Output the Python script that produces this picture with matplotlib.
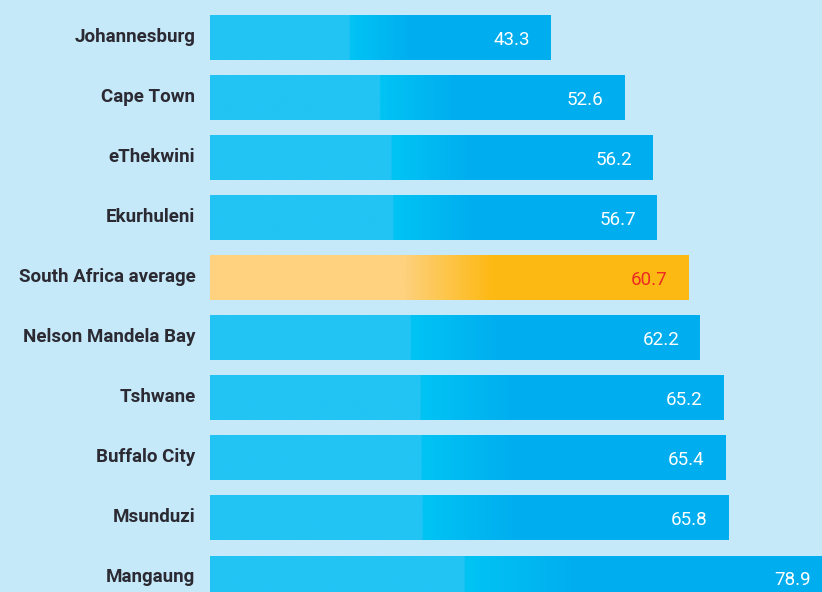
import numpy as np
import matplotlib.pyplot as plt
from matplotlib.colors import to_rgb

cities = ["Johannesburg", "Cape Town", "eThekwini", "Ekurhuleni", "South Africa average",
          "Nelson Mandela Bay", "Tshwane", "Buffalo City", "Msunduzi", "Mangaung"]
values = [43.3, 52.6, 56.2, 56.7, 60.7, 62.2, 65.2, 65.4, 65.8, 78.9]
highlight = "South Africa average"

BG = "#c5e9f9"


def gradient(c_left, c_jump, c_right, n=400):
    # solid left part, then a ramp from ~41% to ~59% of the bar length
    t = np.linspace(0, 1, n)
    a, b, c = (np.array(to_rgb(x)) for x in (c_left, c_jump, c_right))
    img = np.empty((1, n, 3))
    for i, x in enumerate(t):
        if x < 0.41:
            img[0, i] = a
        elif x < 0.59:
            f = (x - 0.41) / 0.18
            img[0, i] = b * (1 - f) + c * f
        else:
            img[0, i] = c
    return img


blue = gradient("#22c4f4", "#00c4f4", "#00aeef")
orange = gradient("#fed27f", "#fed07a", "#fdb913")

fig = plt.figure(figsize=(8.22, 5.92), dpi=100, facecolor=BG)
ax = fig.add_axes([210 / 822, 0, 1 - 210 / 822, 1])
ax.set_facecolor(BG)

h = 44 / 60
for i, (name, v) in enumerate(zip(cities, values)):
    img = orange if name == highlight else blue
    ax.imshow(img, extent=[0, v, i + h / 2, i - h / 2], aspect="auto",
              interpolation="bilinear", zorder=2)
    ax.text(v - 2.6, i + 0.03, f"{v}", ha="right", va="center",
            color="#ed2a24" if name == highlight else "white",
            fontsize=13.5, family="Roboto", zorder=3)
    ax.text(-1.85, i - 0.02, name, ha="right", va="center", color="#2b2a33",
            fontsize=13.5, family="Roboto", fontweight="bold",
            clip_on=False)

ax.set_xlim(0, 612 / (341 / 43.3))
ax.set_ylim(9.233, -0.633)
ax.axis("off")

fig.savefig("out.png", dpi=100, facecolor=BG)
